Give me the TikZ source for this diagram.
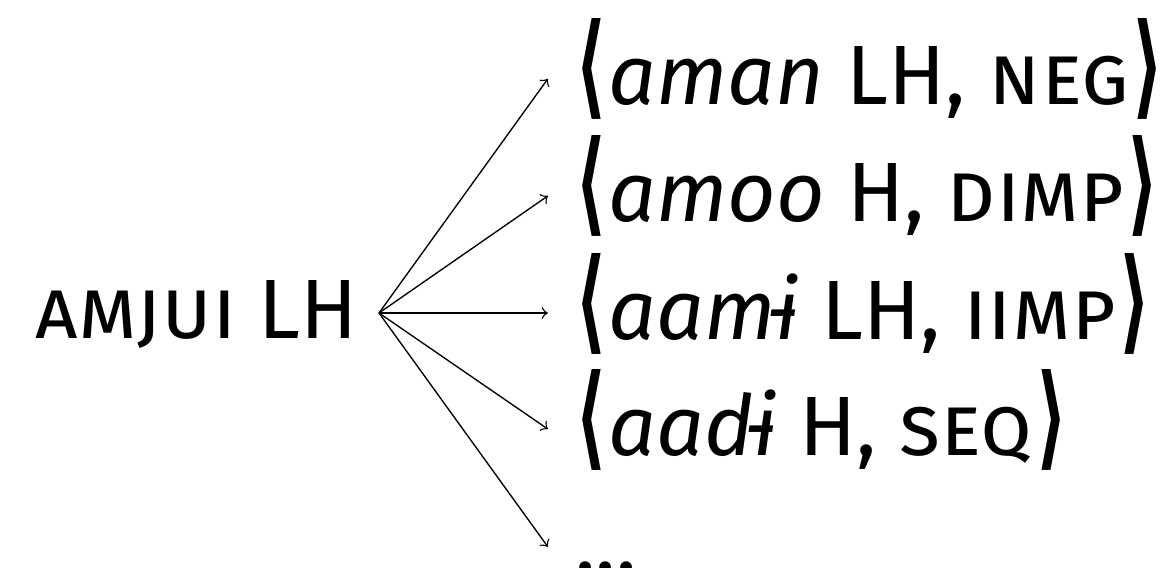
\documentclass[tikz,border=0pt]{standalone}
\usepackage{fontspec}
\usepackage{graphicx}
\setmainfont{Fira Sans}
\newfontfamily\brfont{DejaVu Sans}
\newcommand{\lan}{\scalebox{0.6}[1]{\fontsize{33.5}{33.5}\brfont\bfseries ⟨}\hspace{0.5pt}}
\newcommand{\ran}{\hspace{1pt}\scalebox{0.6}[1]{\fontsize{33.5}{33.5}\brfont\bfseries ⟩}}
\usetikzlibrary{arrows}
\tikzset{every edge/.style={draw,->}, root/.style={anchor=east, inner xsep=6pt, text height=17.2pt, text depth=2.4pt}, form/.style={anchor=west, inner xsep=8pt, text height=19.4pt, text depth=4pt}}

\begin{document}
\begin{tikzpicture}[font=\Huge]
            \useasboundingbox (0,0) rectangle (343.1pt,-167.85pt);
            \node[root] at (112pt,-92.5pt) (n0) {\textsc{amjui} LH};
            \node[form] at (161.9pt,-23.3pt) (n1) {\lan\textit{aman} LH, \textsc{neg}\ran};
            \node[form] at (161.9pt,-57.9pt) (n2) {\lan\textit{amoo} H, \textsc{dimp}\ran};
            \node[form] at (161.9pt,-92.5pt) (n3) {\lan\textit{aamɨ} LH, \textsc{iimp}\ran};
            \node[form] at (161.9pt,-126.8pt) (n4) {\lan\textit{aadɨ} H, \textsc{seq}\ran};
            \node[form] at (161.9pt,-161.6pt) (n5) {...};
            
            \draw   (n0.east) edge (n1.west)
                    (n0.east) edge (n2.west)
                    (n0.east) edge (n3.west)
                    (n0.east) edge (n4.west)
                    (n0.east) edge (n5.west);
        \end{tikzpicture}
\end{document}
